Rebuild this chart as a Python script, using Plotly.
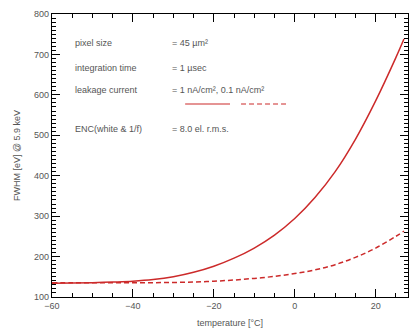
import plotly.graph_objects as go

temperature = [-60, -55, -50, -45, -40, -35, -30, -25, -20, -15, -10, -5, 0, 5, 10, 15, 20, 25, 27]
fwhm_1nA = [134, 134.5, 135.5, 137, 139, 143, 150, 161, 176, 196, 221, 253, 294, 346, 410, 490, 585, 692, 738]
fwhm_01nA = [135, 135, 135, 135, 135.5, 135.5, 136, 137, 139, 142, 146, 151, 158, 167, 180, 198, 221, 250, 263]

labels = ["pixel size", "integration time", "leakage current", "ENC(white & 1/f)"]
values = ["= 45 µm²", "= 1 µsec", "= 1 nA/cm², 0.1 nA/cm²", "= 8.0 el. r.m.s."]
label_y = [0.898, 0.809, 0.731, 0.594]

red = "#cc2a2a"
fig = go.Figure()
fig.add_trace(go.Scatter(x=temperature, y=fwhm_1nA, mode="lines",
                         line=dict(color=red, width=1.5, shape="spline", smoothing=1.0), showlegend=False))
fig.add_trace(go.Scatter(x=temperature, y=fwhm_01nA, mode="lines",
                         line=dict(color=red, width=1.5, dash="5px,3px", shape="spline"), showlegend=False))

font = dict(family="Liberation Sans, Arial", size=9, color="#555555")
for lab, val, yy in zip(labels, values, label_y):
    fig.add_annotation(x=0.059, y=yy, xref="paper", yref="paper", text=lab, showarrow=False,
                       xanchor="left", yanchor="middle", font=font)
    fig.add_annotation(x=0.331, y=yy, xref="paper", yref="paper", text=val, showarrow=False,
                       xanchor="left", yanchor="middle", font=font)

fig.add_shape(type="line", xref="paper", yref="paper", x0=0.374, x1=0.5, y0=0.682, y1=0.682,
              line=dict(color=red, width=1.2), opacity=1)
fig.add_shape(type="line", xref="paper", yref="paper", x0=0.531, x1=0.663, y0=0.682, y1=0.682,
              line=dict(color=red, width=1.2, dash="5px,3px"), opacity=1)

axis_common = dict(showgrid=False, zeroline=False, showline=True, linecolor="black", linewidth=1.2,
                   mirror="allticks", ticks="inside", tickcolor="black", tickwidth=1.2,
                   tickfont=font, automargin=False, layer="above traces")
fig.update_xaxes(range=[-60, 28], tick0=-60, dtick=20, ticklen=8,
                 minor=dict(dtick=5, ticks="inside", ticklen=4, tickcolor="black", tickwidth=1, showgrid=False),
                 title=dict(text="temperature [°C]", font=font, standoff=9), **axis_common)
fig.update_yaxes(range=[100, 800], tick0=100, dtick=100, ticklen=8,
                 minor=dict(dtick=10, ticks="inside", ticklen=4, tickcolor="black", tickwidth=1, showgrid=False),
                 title=dict(text="FWHM [eV] @ 5.9 keV", font=font, standoff=11), **axis_common)

fig.update_layout(width=409, height=325, margin=dict(l=44, r=9, t=6, b=36),
                  plot_bgcolor="rgba(0,0,0,0)", paper_bgcolor="white")
fig.write_html("out.html")
